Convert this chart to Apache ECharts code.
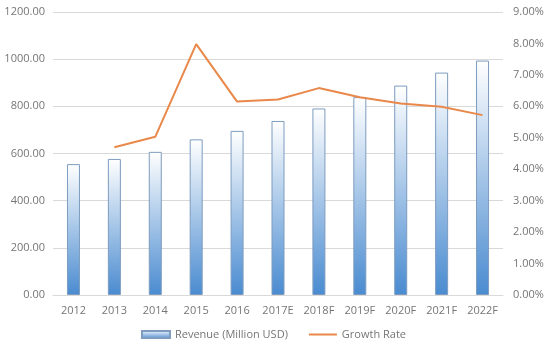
<!DOCTYPE html>
<html>
<head>
<meta charset="utf-8">
<script src="https://cdn.jsdelivr.net/npm/echarts@6/dist/echarts.min.js"></script>
<style>
  html, body { margin: 0; padding: 0; background: #fff; }
  #chart { width: 547px; height: 354px; }
</style>
</head>
<body>
<div id="chart"></div>
<script>
const categories = ["2012", "2013", "2014", "2015", "2016", "2017E", "2018F", "2019F", "2020F", "2021F", "2022F"];
const revenue = [555, 577, 607, 660, 696, 738, 791, 839, 888, 943, 994];
// growth rate in %, no value for 2012
const growthRate = [null, 4.70, 5.03, 7.98, 6.15, 6.22, 6.58, 6.29, 6.09, 5.99, 5.72];

const myChart = echarts.init(document.getElementById("chart"));

const labelStyle = {
  color: "#767676",
  fontSize: 11,
  fontFamily: "Open Sans"
};

const barFill = new echarts.graphic.LinearGradient(0, 0, 0, 1, [
  { offset: 0, color: "#ffffff" },
  { offset: 1, color: "#4a8bd0" }
]);

myChart.setOption({
  animation: false,
  grid: { left: 53, right: 44, top: 12, bottom: 59 },
  legend: {
    bottom: 9,
    left: "center",
    itemGap: 20,
    itemWidth: 28,
    itemHeight: 7,
    textStyle: labelStyle,
    data: [
      { name: "Revenue (Million USD)", icon: "rect" },
      { name: "Growth Rate", itemStyle: { opacity: 0 } }
    ]
  },
  xAxis: {
    type: "category",
    data: categories,
    axisTick: { show: false },
    axisLine: { lineStyle: { color: "#d9d9d9" } },
    axisLabel: Object.assign({ margin: 10 }, labelStyle)
  },
  yAxis: [
    {
      type: "value",
      min: 0,
      max: 1200,
      interval: 200,
      axisLabel: Object.assign({ margin: 8, formatter: v => v.toFixed(2) }, labelStyle),
      splitLine: { lineStyle: { color: "#d9d9d9" } }
    },
    {
      type: "value",
      min: 0,
      max: 9,
      interval: 1,
      axisLabel: Object.assign({ margin: 10, formatter: v => v.toFixed(2) + "%" }, labelStyle),
      splitLine: { show: false }
    }
  ],
  series: [
    {
      name: "Revenue (Million USD)",
      type: "bar",
      data: revenue,
      barWidth: 13,
      itemStyle: {
        color: barFill,
        borderColor: "#7d9cbf",
        borderWidth: 1
      }
    },
    {
      name: "Growth Rate",
      type: "line",
      yAxisIndex: 1,
      data: growthRate,
      symbol: "none",
      itemStyle: { color: "#e9884a" },
      lineStyle: { color: "#e9884a", width: 2 }
    }
  ]
});
</script>
</body>
</html>
